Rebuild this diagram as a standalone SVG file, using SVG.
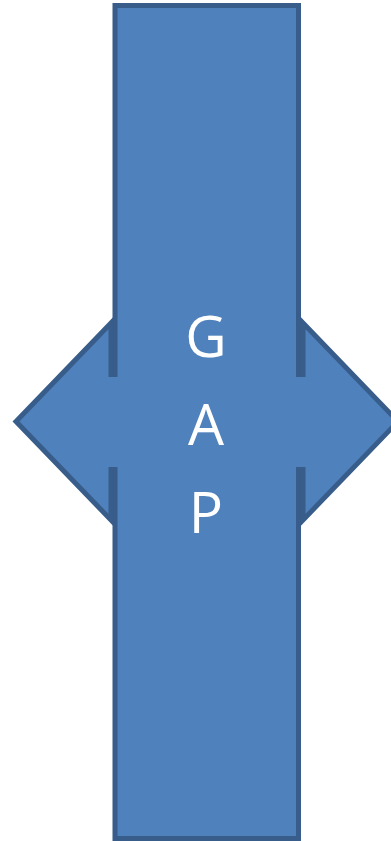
<svg xmlns="http://www.w3.org/2000/svg" width="391" height="841" viewBox="0 0 391 841">
<style>
.f{fill:#4F81BD;stroke:none}
.s{fill:none;stroke:#385D8A;stroke-width:5;stroke-linecap:butt;stroke-linejoin:miter}
.t{font-family:"Open Sans","Liberation Sans",sans-serif;font-size:57px;fill:#FFFFFF;text-anchor:middle}
</style>
<g id="left-arrow">
<polygon class="f" points="16,421.5 111,323 118,323 118,520 111,520"/>
<polygon class="f" points="109,376 118,376 118,468 109,468"/>
</g>
<g id="right-arrow">
<polygon class="f" points="398,421.5 303,323 296,323 296,520 303,520"/>
<polygon class="f" points="296,376 305,376 305,468 296,468"/>
</g>
<g id="gap-bar">
<rect class="f" x="115" y="5.5" width="183.5" height="833"/>
<path class="s" d="M115,377 V5.5 H298.5 V377 M298.5,467 V838.5 H115 V467"/>
</g>
<g id="arrow-outlines">
<path class="s" d="M111,377 V323 L16,421.5 L111,520 V467"/>
<path class="s" d="M303,377 V323 L398,421.5 L303,520 V467"/>
</g>
<g id="label">
<text class="t" x="206" y="357">G</text>
<text class="t" x="206" y="445">A</text>
<text class="t" x="206" y="533">P</text>
</g>
</svg>
